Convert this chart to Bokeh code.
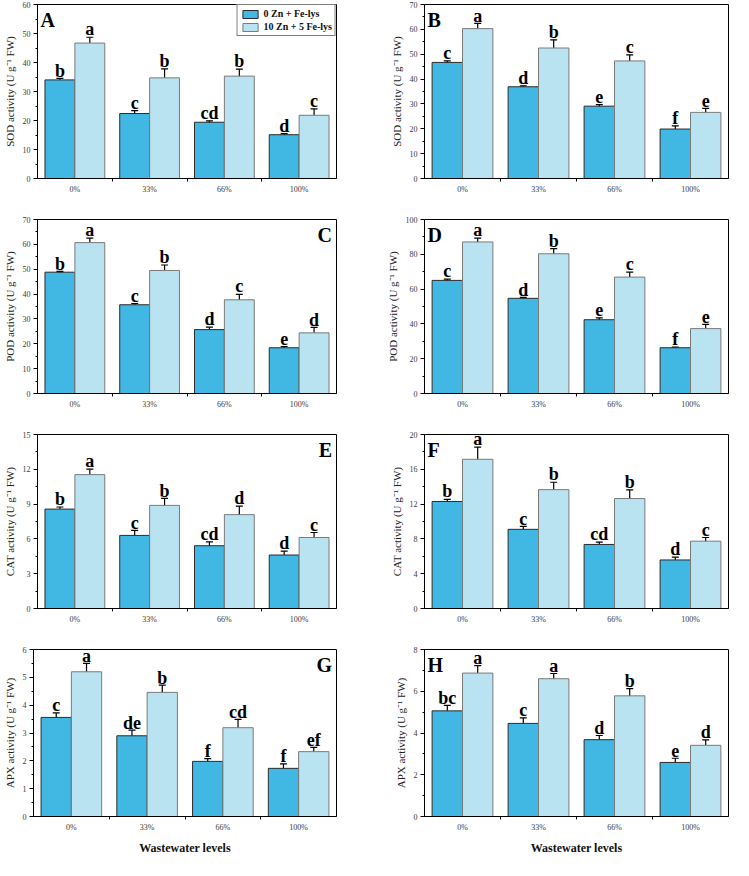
import numpy as np
from bokeh.plotting import figure
from bokeh.models import (ColumnDataSource, Range1d, FixedTicker, SingleIntervalTicker,
                          Whisker, TeeHead, Label, Legend, LegendItem)
from bokeh.layouts import column, row
from bokeh.embed import file_html
from bokeh.resources import INLINE
from bokeh.core.properties import value

levels = ["0%", "33%", "66%", "100%"]
series_names = ["0 Zn + Fe-lys", "10 Zn + 5 Fe-lys"]

# Panel A - SOD (leaf)
sod_a_ctrl = [34.0, 22.4, 19.4, 15.1]
sod_a_ctrl_err = [0.5, 1.0, 0.5, 0.4]
sod_a_trt = [46.7, 34.7, 35.3, 21.8]
sod_a_trt_err = [2.0, 3.1, 2.4, 2.2]
sod_a_ctrl_let = ["b", "c", "cd", "d"]
sod_a_trt_let = ["a", "b", "b", "c"]

# Panel B - SOD (root)
sod_b_ctrl = [46.7, 36.9, 29.1, 19.9]
sod_b_ctrl_err = [0.6, 0.4, 0.6, 1.3]
sod_b_trt = [60.3, 52.5, 47.3, 26.6]
sod_b_trt_err = [2.1, 3.3, 2.4, 1.6]
sod_b_ctrl_let = ["c", "d", "e", "f"]
sod_b_trt_let = ["a", "b", "c", "e"]

# Panel C - POD (leaf)
pod_c_ctrl = [48.8, 35.7, 25.7, 18.4]
pod_c_ctrl_err = [0.3, 0.5, 1.0, 0.5]
pod_c_trt = [60.7, 49.5, 37.7, 24.4]
pod_c_trt_err = [1.8, 2.2, 2.2, 2.2]
pod_c_ctrl_let = ["b", "c", "d", "e"]
pod_c_trt_let = ["a", "b", "c", "d"]

# Panel D - POD (root)
pod_d_ctrl = [65.0, 54.7, 42.4, 26.3]
pod_d_ctrl_err = [0.7, 0.5, 1.1, 0.4]
pod_d_trt = [87.1, 80.3, 66.9, 37.3]
pod_d_trt_err = [2.2, 3.0, 2.8, 2.4]
pod_d_ctrl_let = ["c", "d", "e", "f"]
pod_d_trt_let = ["a", "b", "c", "e"]

# Panel E - CAT (leaf)
cat_e_ctrl = [8.57, 6.30, 5.41, 4.61]
cat_e_ctrl_err = [0.18, 0.43, 0.33, 0.33]
cat_e_trt = [11.54, 8.89, 8.09, 6.12]
cat_e_trt_err = [0.47, 0.60, 0.73, 0.43]
cat_e_ctrl_let = ["b", "c", "cd", "d"]
cat_e_trt_let = ["a", "b", "d", "c"]

# Panel F - CAT (root)
cat_f_ctrl = [12.3, 9.1, 7.36, 5.58]
cat_f_ctrl_err = [0.25, 0.34, 0.27, 0.32]
cat_f_trt = [17.15, 13.66, 12.64, 7.74]
cat_f_trt_err = [1.4, 0.85, 1.0, 0.42]
cat_f_ctrl_let = ["b", "c", "cd", "d"]
cat_f_trt_let = ["a", "b", "b", "c"]

# Panel G - APX (leaf)
apx_g_ctrl = [3.56, 2.90, 1.98, 1.73]
apx_g_ctrl_err = [0.16, 0.20, 0.10, 0.16]
apx_g_trt = [5.20, 4.46, 3.19, 2.33]
apx_g_trt_err = [0.30, 0.26, 0.30, 0.15]
apx_g_ctrl_let = ["c", "de", "f", "f"]
apx_g_trt_let = ["a", "b", "cd", "ef"]

# Panel H - APX (root)
apx_h_ctrl = [5.06, 4.46, 3.68, 2.59]
apx_h_ctrl_err = [0.26, 0.26, 0.20, 0.20]
apx_h_trt = [6.87, 6.60, 5.78, 3.41]
apx_h_trt_err = [0.36, 0.25, 0.35, 0.26]
apx_h_ctrl_let = ["bc", "c", "d", "e"]
apx_h_trt_let = ["a", "a", "b", "d"]

y_max = {"A": 60, "B": 70, "C": 70, "D": 100, "E": 15, "F": 20, "G": 6, "H": 8}
y_step = {"A": 10, "B": 10, "C": 10, "D": 20, "E": 3, "F": 4, "G": 1, "H": 2}
y_labels = {
    "A": "SOD activity (U g\u207b\u00b9 FW)", "B": "SOD activity (U g\u207b\u00b9 FW)",
    "C": "POD activity (U g\u207b\u00b9 FW)", "D": "POD activity (U g\u207b\u00b9 FW)",
    "E": "CAT activity (U g\u207b\u00b9 FW)", "F": "CAT activity (U g\u207b\u00b9 FW)",
    "G": "APX activity (U g\u207b\u00b9 FW)", "H": "APX activity (U g\u207b\u00b9 FW)",
}
x_title = "Wastewater levels"

panels = {
    "A": (sod_a_ctrl, sod_a_ctrl_err, sod_a_trt, sod_a_trt_err, sod_a_ctrl_let, sod_a_trt_let),
    "B": (sod_b_ctrl, sod_b_ctrl_err, sod_b_trt, sod_b_trt_err, sod_b_ctrl_let, sod_b_trt_let),
    "C": (pod_c_ctrl, pod_c_ctrl_err, pod_c_trt, pod_c_trt_err, pod_c_ctrl_let, pod_c_trt_let),
    "D": (pod_d_ctrl, pod_d_ctrl_err, pod_d_trt, pod_d_trt_err, pod_d_ctrl_let, pod_d_trt_let),
    "E": (cat_e_ctrl, cat_e_ctrl_err, cat_e_trt, cat_e_trt_err, cat_e_ctrl_let, cat_e_trt_let),
    "F": (cat_f_ctrl, cat_f_ctrl_err, cat_f_trt, cat_f_trt_err, cat_f_ctrl_let, cat_f_trt_let),
    "G": (apx_g_ctrl, apx_g_ctrl_err, apx_g_trt, apx_g_trt_err, apx_g_ctrl_let, apx_g_trt_let),
    "H": (apx_h_ctrl, apx_h_ctrl_err, apx_h_trt, apx_h_trt_err, apx_h_ctrl_let, apx_h_trt_let),
}

DARK = "#41B7E4"
LIGHT = "#BAE3F1"
FONT = "Liberation Serif"
letter_right = {"C", "E", "G"}


def make_panel(key, left_col, bottom_row):
    ctrl, ctrl_err, trt, trt_err, ctrl_let, trt_let = panels[key]
    ymax = y_max[key]
    width = 366
    height = 212 if bottom_row else 215
    p = figure(width=width, height=height, output_backend="svg", toolbar_location=None,
               x_range=Range1d(0.5, 4.5), y_range=Range1d(0, ymax))
    p.min_border_top = 4
    p.min_border_bottom = 34 if bottom_row else 37
    if left_col:
        p.min_border_left = 32
        p.min_border_right = 30
    else:
        p.min_border_left = 58
        p.min_border_right = 4
    p.xgrid.visible = False
    p.ygrid.visible = False
    p.outline_line_color = "black"
    p.outline_line_width = 1
    p.background_fill_color = "white"
    p.border_fill_color = "white"

    pad = 0.045 * ymax  # gap between error cap and significance letter
    pos = np.arange(1, len(levels) + 1)
    sources = []
    for vals, errs, lets, dx in ((ctrl, ctrl_err, ctrl_let, -0.2), (trt, trt_err, trt_let, 0.2)):
        v = np.array(vals, dtype=float)
        e = np.array(errs, dtype=float)
        sources.append(ColumnDataSource(dict(x=pos + dx, top=v, lower=v - e, upper=v + e,
                                             ly=v + e + pad, let=lets)))
    src_c, src_t = sources
    r1 = p.vbar(x="x", top="top", width=0.4, source=src_c, fill_color=DARK,
                line_color="#2b2b2b", line_width=1)
    r2 = p.vbar(x="x", top="top", width=0.4, source=src_t, fill_color=LIGHT,
                line_color="#7a7a7a", line_width=1)

    for src in sources:
        w = Whisker(base="x", lower="lower", upper="upper", source=src,
                    line_color="black", line_width=1.2,
                    upper_head=TeeHead(size=7, line_color="black", line_width=1.2),
                    lower_head=TeeHead(size=7, line_color="black", line_width=1.2))
        p.add_layout(w)
        p.text(x="x", y="ly", text="let", source=src, text_align="center",
               text_baseline="alphabetic",
               text_font=value(FONT), text_font_style="bold",
               text_font_size="18px", text_color="black")

    if key in letter_right:
        lab = Label(x=4.44, y=ymax * 0.975, text=key, text_align="right", text_baseline="top",
                    text_font=FONT, text_font_style="bold", text_font_size="20px",
                    text_color="black")
    else:
        lab = Label(x=0.54, y=ymax * 0.975, text=key, text_align="left", text_baseline="top",
                    text_font=FONT, text_font_style="bold", text_font_size="20px",
                    text_color="black")
    p.add_layout(lab)

    # axes
    p.xaxis.ticker = FixedTicker(ticks=list(pos), minor_ticks=list(pos[:-1] + 0.5))
    p.xaxis.major_label_overrides = {int(i): lv for i, lv in zip(pos, levels)}
    p.xaxis.major_tick_out = 0
    p.xaxis.major_tick_in = 0
    p.xaxis.minor_tick_out = 3
    p.xaxis.minor_tick_in = 0
    p.yaxis.ticker = SingleIntervalTicker(interval=y_step[key], num_minor_ticks=2)
    p.yaxis.major_tick_out = 4
    p.yaxis.major_tick_in = 0
    p.yaxis.minor_tick_out = 2
    p.yaxis.minor_tick_in = 0
    for ax in (p.xaxis[0], p.yaxis[0]):
        ax.axis_line_color = "black"
        ax.axis_line_width = 1
        ax.major_tick_line_color = "black"
        ax.minor_tick_line_color = "black"
        ax.major_label_text_font = FONT
        ax.major_label_text_font_size = "8px"
        ax.major_label_text_color = "#3a3a3a"
        ax.major_label_standoff = 3
    p.yaxis.axis_label = y_labels[key]
    p.yaxis.axis_label_text_font = FONT
    p.yaxis.axis_label_text_font_style = "normal"
    p.yaxis.axis_label_text_font_size = "11px"
    p.yaxis.axis_label_text_color = "#222222"
    p.yaxis.axis_label_standoff = 4
    if bottom_row:
        p.xaxis.axis_label = x_title
        p.xaxis.axis_label_text_font = FONT
        p.xaxis.axis_label_text_font_style = "bold"
        p.xaxis.axis_label_text_font_size = "12px"
        p.xaxis.axis_label_text_color = "#111111"
        p.xaxis.axis_label_standoff = 6

    if key == "A":
        legend = Legend(items=[LegendItem(label=series_names[0], renderers=[r1]),
                               LegendItem(label=series_names[1], renderers=[r2])],
                        location="top_right")
        legend.margin = 0
        legend.padding = 3
        legend.spacing = 2
        legend.glyph_width = 19
        legend.glyph_height = 10
        legend.label_height = 10
        legend.label_standoff = 4
        legend.label_text_font = FONT
        legend.label_text_font_style = "bold"
        legend.label_text_font_size = "10px"
        legend.label_text_color = "#111111"
        legend.border_line_color = "black"
        legend.border_line_width = 1
        legend.background_fill_color = "white"
        legend.background_fill_alpha = 1
        p.add_layout(legend)
    return p


keys = [["A", "B"], ["C", "D"], ["E", "F"], ["G", "H"]]
rows = []
for ri, pair in enumerate(keys):
    bottom = ri == len(keys) - 1
    rows.append(row(make_panel(pair[0], True, bottom), make_panel(pair[1], False, bottom)))
layout = column(*rows)

open("out.html", "w").write(file_html(layout, INLINE))
